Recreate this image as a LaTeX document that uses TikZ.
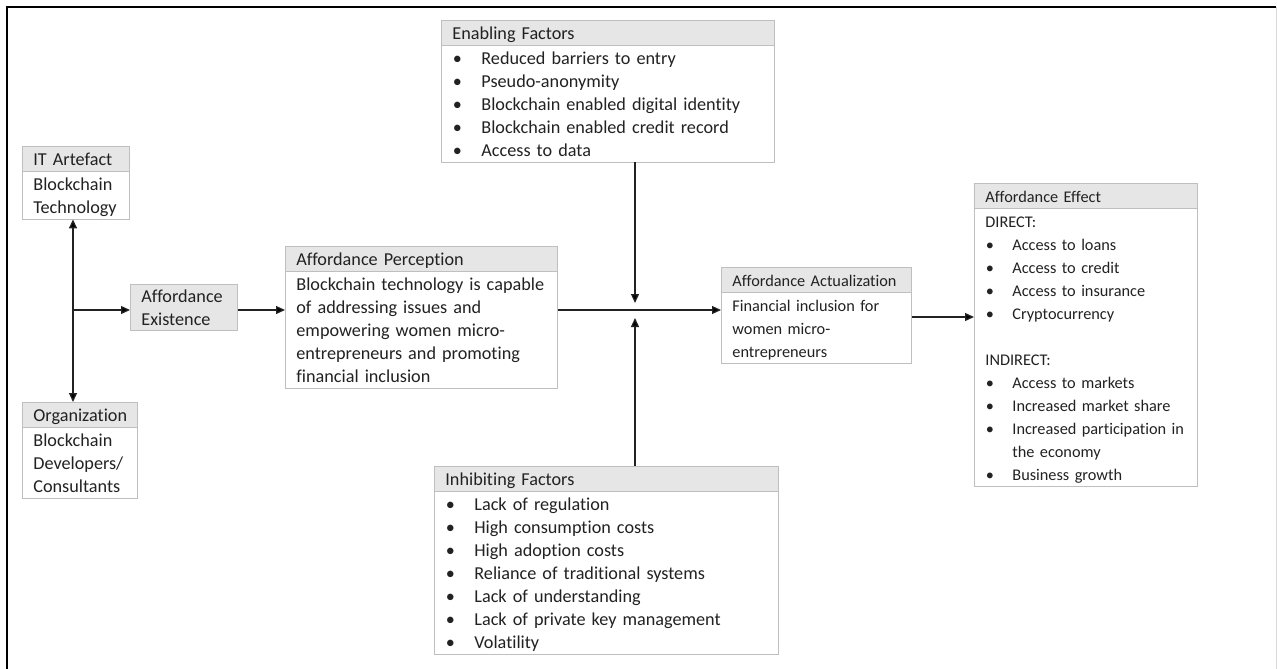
\documentclass[tikz,border=0pt]{standalone}
\usepackage{fontspec}
\setmainfont{Carlito}[Ligatures=NoCommon]
\usepackage{tikz}
\usetikzlibrary{positioning, arrows.meta, shapes.multipart}
\definecolor{gris}{HTML}{E7E6E6}
\definecolor{borde}{HTML}{BFBFBF}
\definecolor{tinta}{HTML}{222222}
\newcommand{\lstrut}{\rule[-4.6pt]{0pt}{23pt}}
\newcommand{\bul}[2][29pt]{\makebox[#1][l]{\hspace{0.5pt}\textbullet}#2}

\begin{document}
\begin{tikzpicture}[x=1pt, y=-1pt,
    texto/.style={anchor=north west, inner xsep=11pt, align=left, text=tinta,
      font=\fontsize{18.2}{23}\selectfont},
    chica/.style={font=\fontsize{16.3}{23}\selectfont},
    caja/.style={texto, rectangle split, rectangle split parts=2,
      rectangle split part fill={gris,white}, draw=borde, line width=0.8pt, inner ysep=0.5pt},
    flecha/.style={draw=tinta, line width=1.3pt, -{Triangle[length=9pt,width=8pt]}}]
    \useasboundingbox (0,0) rectangle (1277,669);
    \fill[white] (0,0) rectangle (1277,669);
    \draw[line width=2.2pt] (1276,7) -- (7,7) -- (7,669);
    \draw[borde!60, line width=1pt] (1276.5,7) -- (1276.5,669);

    \node[caja, text width=85pt] (artefact) at (22,146)
      {\lstrut IT Artefact \nodepart{two}\lstrut Blockchain\\ Technology\lstrut};
    \node[caja, text width=93pt] (organization) at (22,402)
      {\lstrut Organization \nodepart{two}\lstrut Blockchain\\ Developers/\\ Consultants\lstrut};
    \node[texto, draw=borde, fill=gris, line width=0.8pt, inner ysep=0pt, text width=85pt] (existence) at (130,284)
      {\lstrut Affordance\\ Existence\lstrut};
    \node[caja, text width=250pt] (perception) at (285,246)
      {\lstrut Affordance Perception \nodepart{two}\lstrut Blockchain technology is capable\\
       of addressing issues and\\ empowering women micro-\\ entrepreneurs and promoting\\
       financial inclusion\lstrut};
    \node[caja, text width=311pt] (enabling) at (441,20)
      {\lstrut Enabling Factors \nodepart{two}\lstrut\bul{Reduced barriers to entry}\\
       \bul{Pseudo-anonymity}\\ \bul{Blockchain enabled digital identity}\\
       \bul{Blockchain enabled credit record}\\ \bul{Access to data}\lstrut};
    \node[caja, text width=322pt] (inhibiting) at (434,466)
      {\lstrut Inhibiting Factors \nodepart{two}\lstrut\bul{Lack of regulation}\\
       \bul{High consumption costs}\\ \bul{High adoption costs}\\
       \bul{Reliance of traditional systems}\\ \bul{Lack of understanding}\\
       \bul{Lack of private key management}\\ \bul{Volatility}\lstrut};
    \node[caja, chica, text width=168pt] (actualization) at (721,267)
      {\lstrut Affordance Actualization \nodepart{two}\lstrut Financial inclusion for\\
       women micro-\\ entrepreneurs\lstrut};
    \node[caja, chica, text width=201pt] (effect) at (974,183)
      {\lstrut Affordance Effect \nodepart{two}\lstrut DIRECT:\\
       \bul[27pt]{Access to loans}\\ \bul[27pt]{Access to credit}\\
       \bul[27pt]{Access to insurance}\\ \bul[27pt]{Cryptocurrency}\\[23pt]
       INDIRECT:\\ \bul[27pt]{Access to markets}\\ \bul[27pt]{Increased market share}\\
       \bul[27pt]{Increased participation in}\\ \hspace*{27pt}the economy\\
       \bul[27pt]{Business growth}\lstrut};

    \coordinate (spine) at (73,310);
    \coordinate (meet) at (635,310);
    \coordinate (salida) at (915,317);
    \draw[flecha, {Triangle[length=9pt,width=8pt]}-{Triangle[length=9pt,width=8pt]}]
      (spine |- artefact.south) -- (spine |- organization.north);
    \draw[flecha] (spine) -- (spine -| existence.west);
    \draw[flecha] (existence.east |- spine) -- (perception.west |- spine);
    \draw[flecha] (perception.east |- spine) -- (actualization.west |- spine);
    \draw[flecha] (meet |- enabling.south) -- ([yshift=7pt]meet);
    \draw[flecha] (meet |- inhibiting.north) -- ([yshift=-8pt]meet);
    \draw[flecha] (actualization.east |- salida) -- (effect.west |- salida);
  \end{tikzpicture}
\end{document}
